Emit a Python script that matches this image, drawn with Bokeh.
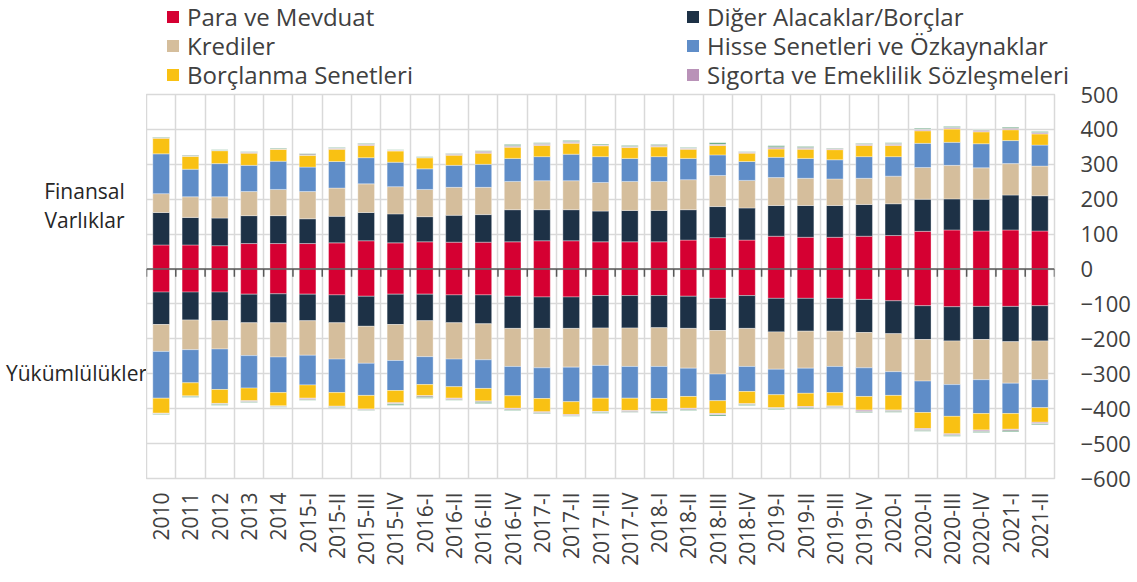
import math
from bokeh.plotting import figure
from bokeh.layouts import column, row
from bokeh.models import (ColumnDataSource, FixedTicker, Legend, LegendItem,
                          Span, Range1d, Grid)
from bokeh.embed import file_html
from bokeh.resources import INLINE

periods = ["2010", "2011", "2012", "2013", "2014",
           "2015-I", "2015-II", "2015-III", "2015-IV",
           "2016-I", "2016-II", "2016-III", "2016-IV",
           "2017-I", "2017-II", "2017-III", "2017-IV",
           "2018-I", "2018-II", "2018-III", "2018-IV",
           "2019-I", "2019-II", "2019-III", "2019-IV",
           "2020-I", "2020-II", "2020-III", "2020-IV",
           "2021-I", "2021-II"]

# Finansal Varlıklar (assets)
a_para = [69, 69, 67, 73, 73, 73, 75, 81, 75, 78, 77, 77, 78, 81, 81, 78, 78, 78, 83, 90, 83,
          94, 91, 91, 94, 96, 108, 112, 109, 112, 109]
a_diger = [93, 79, 79, 80, 80, 71, 76, 81, 83, 72, 77, 79, 92, 89, 89, 88, 90, 90, 87, 89, 92,
           88, 91, 91, 91, 91, 92, 89, 91, 100, 101]
a_kredi = [54, 59, 61, 69, 75, 78, 81, 82, 78, 78, 80, 78, 81, 83, 83, 82, 83, 83, 86, 89, 79,
           80, 78, 76, 75, 79, 91, 96, 90, 90, 85]
a_hisse = [114, 79, 95, 75, 81, 70, 76, 75, 70, 59, 63, 66, 66, 69, 76, 74, 66, 71, 61, 59, 54,
           58, 57, 55, 62, 56, 69, 66, 69, 66, 60]
a_borc = [45, 37, 37, 35, 34, 34, 35, 35, 32, 32, 29, 32, 32, 32, 31, 31, 31, 28, 26, 27, 24,
          24, 26, 29, 32, 32, 36, 38, 34, 31, 32]
a_sigorta = [1, 0, 1, 2, 1, 0, 2, 3, 2, 0, 2, 3, 3, 3, 3, 2, 2, 2, 2, 2, 2,
             3, 3, 2, 3, 3, 3, 3, 3, 3, 3]
a_other1 = [1, 3, 0, 2, 1, 4, 2, 2, 1, 1, 3, 3, 2, 3, 3, 1, 2, 3, 2, 2, 2,
            3, 3, 2, 2, 3, 2, 2, 3, 3, 2]
a_other2 = [1, 1, 2, 1, 2, 1, 1, 1, 1, 2, 1, 1, 3, 2, 2, 2, 2, 2, 1, 4, 1,
            3, 2, 1, 1, 2, 2, 2, 1, 2, 2]

# Yükümlülükler (liabilities)
l_para = [-66, -66, -66, -72, -71, -72, -74, -78, -72, -72, -74, -74, -78, -80, -80, -76, -76,
          -76, -78, -84, -76, -84, -84, -84, -87, -91, -105, -108, -107, -107, -105]
l_diger = [-93, -80, -82, -82, -83, -76, -80, -86, -87, -76, -80, -83, -92, -90, -90, -93, -93,
           -92, -92, -92, -94, -96, -94, -94, -95, -94, -97, -98, -95, -101, -101]
l_kredi = [-77, -85, -81, -94, -98, -99, -104, -106, -103, -103, -104, -103, -109, -113, -111,
           -107, -110, -111, -114, -125, -109, -107, -106, -101, -101, -109, -119, -125, -115,
           -119, -111]
l_hisse = [-134, -95, -116, -93, -102, -85, -96, -92, -86, -80, -79, -82, -84, -88, -99, -94,
           -91, -92, -81, -76, -72, -73, -72, -75, -82, -68, -90, -91, -97, -87, -80]
l_borc = [-43, -38, -40, -36, -38, -38, -39, -39, -35, -32, -33, -36, -36, -38, -37, -38, -35,
          -36, -34, -37, -35, -37, -38, -38, -39, -42, -46, -50, -47, -45, -42]
l_sigorta = [-1, 0, -1, -2, -1, -2, -1, -2, -2, -1, -2, -1, -2, -2, -2, -1, -2, -1, -2, -2, -1,
             -2, -2, -2, -3, -1, -3, -3, -3, -2, -3]
l_other1 = [-1, -1, -2, -2, -2, -3, -2, -2, -2, -4, -3, -3, -3, -3, -2, -2, -3, -2, -3, -2, -2,
            -1, -3, -3, -3, -4, -3, -2, -2, -4, -2]
l_other2 = [-2, -2, -2, -1, -1, -1, -1, -1, -3, -2, -1, -3, -1, -1, -1, -2, -1, -3, -1, -3, -2,
            -2, -2, -1, -2, -1, -2, -2, -2, -2, -2]

series_names = ["Para ve Mevduat", "Diğer Alacaklar/Borçlar", "Krediler",
                "Hisse Senetleri ve Özkaynaklar", "Borçlanma Senetleri",
                "Sigorta ve Emeklilik Sözleşmeleri"]
colors = ["#D50032", "#1D3146", "#D5BE9C", "#5F8DC8", "#F9C113", "#B992B8",
          "#A3A3A3", "#4E9A6E"]

side_labels = ["Finansal", "Varlıklar", "Yükümlülükler"]
side_label_y = [224, 141, -297]
y_ticks = list(range(-600, 501, 100))

x_idx = list(range(len(periods)))
src = ColumnDataSource(dict(
    x=x_idx,
    a_para=a_para, a_diger=a_diger, a_kredi=a_kredi, a_hisse=a_hisse, a_borc=a_borc,
    a_sigorta=a_sigorta, a_other1=a_other1, a_other2=a_other2,
    l_para=l_para, l_diger=l_diger, l_kredi=l_kredi, l_hisse=l_hisse, l_borc=l_borc,
    l_sigorta=l_sigorta, l_other1=l_other1, l_other2=l_other2,
))

FONT = "Open Sans"
GRID = "#d9d9d9"
TXT = "#404040"
y_range = Range1d(-600, 500)

# ---------------- main chart ----------------
p = figure(width=926, height=489, output_backend="svg", toolbar_location=None,
           x_range=Range1d(-0.5, len(periods) - 0.5), y_range=y_range,
           y_axis_type=None,
           min_border_left=0, min_border_right=18, min_border_top=1,
           min_border_bottom=104)
p.background_fill_color = "white"
p.border_fill_color = "white"
p.outline_line_color = GRID
p.outline_line_width = 1.5

bounds = [i - 0.5 for i in range(len(periods) + 1)]
p.xgrid.ticker = FixedTicker(ticks=bounds)
p.xgrid.grid_line_color = GRID
p.xgrid.grid_line_width = 1.5
p.add_layout(Grid(dimension=1, ticker=FixedTicker(ticks=y_ticks),
                  grid_line_color=GRID, grid_line_width=1.5))

a_cols = ["a_para", "a_diger", "a_kredi", "a_hisse", "a_borc", "a_sigorta", "a_other1", "a_other2"]
l_cols = ["l_para", "l_diger", "l_kredi", "l_hisse", "l_borc", "l_sigorta", "l_other1", "l_other2"]

p.vbar_stack(a_cols, x="x", width=0.57, color=colors, source=src,
             line_color="white", line_alpha=0.35, line_width=1)
p.vbar_stack(l_cols, x="x", width=0.57, color=colors, source=src,
             line_color="white", line_alpha=0.35, line_width=1)

# zero line with category tick marks
p.add_layout(Span(location=0, dimension="width", line_color="#595959", line_width=1.5))
p.segment(x0=bounds, y0=[0] * len(bounds), x1=bounds, y1=[-22] * len(bounds),
          line_color="#595959", line_width=1.5)

p.xaxis.ticker = FixedTicker(ticks=x_idx)
p.xaxis.major_label_overrides = {i: lab for i, lab in enumerate(periods)}
p.xaxis.major_label_orientation = math.pi / 2
p.xaxis.axis_line_color = None
p.xaxis.major_tick_line_color = None
p.xaxis.minor_tick_line_color = None
p.xaxis.major_label_standoff = 8
p.xaxis.major_label_text_font = FONT
p.xaxis.major_label_text_font_size = "21px"
p.xaxis.major_label_text_color = TXT

# ---------------- value axis (right, full height) ----------------
ax = figure(width=65, height=582, output_backend="svg", toolbar_location=None,
            x_range=Range1d(0, 1), y_range=y_range, x_axis_type=None,
            y_axis_location="right",
            min_border_left=0, min_border_right=64, min_border_top=94,
            min_border_bottom=104)
ax.outline_line_color = None
ax.grid.visible = False
ax.yaxis.ticker = FixedTicker(ticks=y_ticks)
ax.yaxis.axis_line_color = None
ax.yaxis.major_tick_line_color = None
ax.yaxis.minor_tick_line_color = None
ax.yaxis.major_tick_out = 0
ax.yaxis.major_tick_in = 0
ax.yaxis.major_label_standoff = 7
ax.yaxis.major_label_text_font = FONT
ax.yaxis.major_label_text_font_size = "22px"
ax.yaxis.major_label_text_color = TXT

# ---------------- left side labels ----------------
lab = figure(width=146, height=489, output_backend="svg", toolbar_location=None,
             x_range=Range1d(0, 146), y_range=y_range,
             x_axis_type=None, y_axis_type=None,
             min_border_left=0, min_border_right=0, min_border_top=1,
             min_border_bottom=104)
lab.outline_line_color = None
lab.grid.visible = False
lab.text(x=[84, 84, 76], y=side_label_y, text=side_labels, text_align="center",
         text_baseline="middle", text_font_size="21px", text_color="#262626",
         text_font={"value": FONT})

# ---------------- legend strip (two columns, three rows) ----------------
leg_fig = figure(width=1072, height=93, output_backend="svg", toolbar_location=None,
                 x_range=Range1d(0, 1), y_range=Range1d(0, 1),
                 x_axis_type=None, y_axis_type=None,
                 min_border_left=0, min_border_right=0, min_border_top=0,
                 min_border_bottom=0)
leg_fig.outline_line_color = None
leg_fig.grid.visible = False

legend_cols = [(165, [0, 2, 4]), (685, [1, 3, 5])]
row_bottoms = [60, 31, 2]
for xloc, idxs in legend_cols:
    for r, i in enumerate(idxs):
        dummy = leg_fig.vbar(x=[-10], top=[0], bottom=[0], width=0.1,
                             fill_color=colors[i], line_color=colors[i], line_alpha=0)
        leg = Legend(items=[LegendItem(label=series_names[i], renderers=[dummy])],
                     location=(xloc, row_bottoms[r]), orientation="vertical",
                     padding=0, margin=0, spacing=0, border_line_color=None,
                     background_fill_alpha=0, glyph_width=15, glyph_height=15,
                     label_standoff=7, label_text_font=FONT,
                     label_text_font_size="24px", label_text_color=TXT)
        leg_fig.add_layout(leg)

layout = row(column(leg_fig, row(lab, p)), ax)
open("out.html", "w").write(file_html(layout, INLINE))
